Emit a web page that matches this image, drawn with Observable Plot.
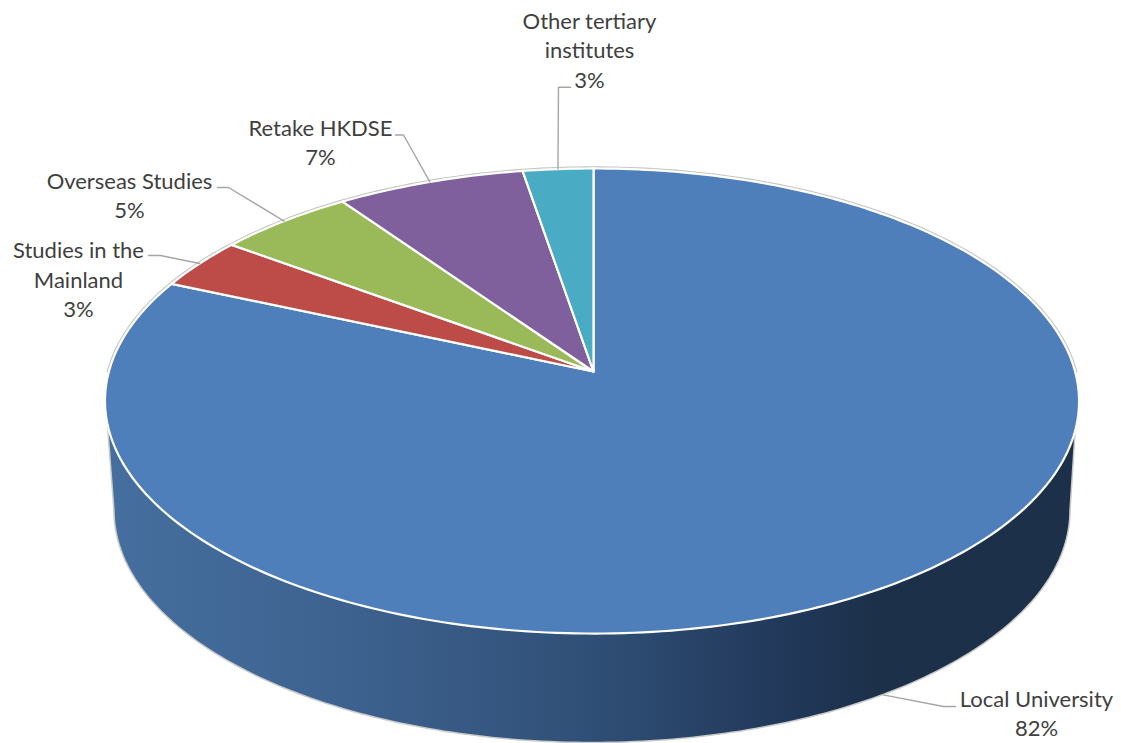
<!DOCTYPE html>
<html>
<head>
<meta charset="utf-8">
<script src="https://cdn.jsdelivr.net/npm/d3@7"></script>
<script src="https://cdn.jsdelivr.net/npm/@observablehq/plot@0.6"></script>
<style>html,body{margin:0;padding:0;background:#fff}svg{display:block}</style>
</head>
<body>
<div id="chart"></div>
<script>
// Data: clockwise from 12 o'clock
const categories = ["Local University", "Studies in the Mainland", "Overseas Studies", "Retake HKDSE", "Other tertiary institutes"];
const shares = [81.6, 3.55, 5.15, 7.06, 2.64];         // slice sizes
const percentLabels = ["82%", "3%", "5%", "7%", "3%"]; // printed labels
const labelLines = ["Local University", "Studies in the\nMainland", "Overseas Studies", "Retake HKDSE", "Other tertiary\ninstitutes"];

// Styles and layout
const sliceColors = ["#4f7fbb", "#bd4c49", "#9aba59", "#7f5f9c", "#4aabc5"];
const labelAnchors = [[1036, 711.5], [78, 278], [129, 193.5], [320, 140.5], [589, 48.5]];
const leaderStarts = [[[955, 706], [943, 706]], [[148, 255], [160, 255]], [[217, 187], [228, 187]], [[395, 134.5], [403, 134.5]], [[570, 86.7], [558, 86.7]]];

// Perspective projection of the pie disc
const apex = [593, 371], rimCx = 591.5, persp = 0.1269, sx = 483.1, sy = 228.8;
const depth = 109, baseScale = 0.982;
const project = (deg) => {
  const t = deg * Math.PI / 180, X = Math.sin(t), Y = Math.cos(t), w = 1 + persp * Y;
  return [rimCx + (apex[0] - rimCx) * Y * Y + sx * X / w, apex[1] - sy * Y / w];
};

const total = d3.sum(shares);
let acc = 0;
const sliceRows = [], leaderRows = [];
categories.forEach((c, i) => {
  const a0 = acc / total * 360, a1 = (acc + shares[i]) / total * 360;
  acc += shares[i];
  sliceRows.push({category: c, x: apex[0], y: apex[1]});
  const n = Math.max(2, Math.ceil(a1 - a0));
  for (let j = 0; j <= n; ++j) {
    const [x, y] = project(a0 + (a1 - a0) * j / n);
    sliceRows.push({category: c, x, y});
  }
  sliceRows.push({category: c, x: apex[0], y: apex[1]});
  const mid = project((a0 + a1) / 2);
  const front = Math.cos((a0 + a1) / 2 * Math.PI / 180) < 0;
  const end = front ? [apex[0] + (mid[0] - apex[0]) * baseScale, mid[1] + depth] : mid;
  for (const [x, y] of [...leaderStarts[i], end]) leaderRows.push({category: c, x, y});
});

const rimRows = d3.range(-90, 91, 1).map((d) => { const [x, y] = project(d); return {x, y}; });
const wallCx = 591.5, wallCy = 510, wallRx = 478, wallRy = 232;
const wallRows = [
  {x: 107, y: 425},
  ...d3.range(0, 181, 1).map((d) => ({
    x: wallCx - wallRx * Math.cos(d * Math.PI / 180),
    y: wallCy + wallRy * Math.sin(d * Math.PI / 180)
  })),
  {x: 1075, y: 425},
  {x: 107, y: 425}
];
const labelRows = categories.map((c, i) => ({
  text: labelLines[i] + "\n" + percentLabels[i], x: labelAnchors[i][0], y: labelAnchors[i][1]
}));

const chart = Plot.plot({
  width: 1121, height: 743,
  marginTop: 0, marginRight: 0, marginBottom: 0, marginLeft: 0,
  style: {fontFamily: "Lato, 'Open Sans', sans-serif", background: "#fff"},
  x: {axis: null, domain: [0, 1121], range: [0, 1121]},
  y: {axis: null, domain: [0, 743], range: [0, 743]},
  color: {domain: categories, range: sliceColors},
  marks: [
    () => {
      const ns = "http://www.w3.org/2000/svg";
      const defs = document.createElementNS(ns, "defs");
      const g = document.createElementNS(ns, "linearGradient");
      g.setAttribute("id", "wallShade");
      [[0, "#456f9f"], [0.25, "#3d628f"], [0.5, "#304f76"], [0.7, "#21385a"], [0.8, "#1c3049"], [1, "#1c3049"]].forEach(([o, c]) => {
        const s = document.createElementNS(ns, "stop");
        s.setAttribute("offset", o); s.setAttribute("stop-color", c);
        g.appendChild(s);
      });
      defs.appendChild(g);
      return defs;
    },
    Plot.line(wallRows, {x: "x", y: "y", fill: "url(#wallShade)", stroke: "#c9c9c9", strokeWidth: 1.5}),
    Plot.line(rimRows, {x: "x", y: "y", stroke: "#c6c6c6", strokeWidth: 4.4}),
    Plot.line(sliceRows, {x: "x", y: "y", fill: "category", z: "category", stroke: "#fff", strokeWidth: 2.2, strokeLinejoin: "round"}),
    Plot.line(leaderRows, {x: "x", y: "y", z: "category", stroke: "#a6a6a6", strokeWidth: 1.4}),
    Plot.text(labelRows, {x: "x", y: "y", text: "text", fontSize: 22, lineHeight: 1.34, lineAnchor: "middle", textAnchor: "middle", fill: "#404040"})
  ]
});
document.getElementById("chart").appendChild(chart);
</script>
</body>
</html>
